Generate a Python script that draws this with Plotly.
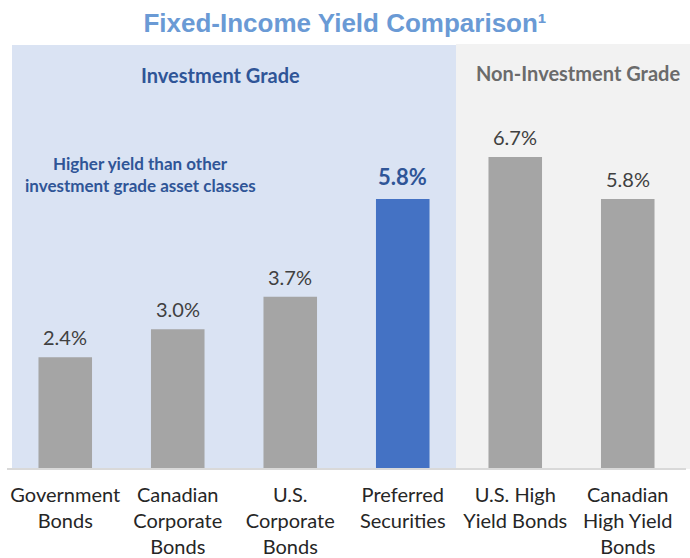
import plotly.graph_objects as go

categories = ["Government<br>Bonds", "Canadian<br>Corporate<br>Bonds", "U.S.<br>Corporate<br>Bonds",
              "Preferred<br>Securities", "U.S. High<br>Yield Bonds", "Canadian<br>High Yield<br>Bonds"]
yields = [2.4, 3.0, 3.7, 5.8, 6.7, 5.8]
value_labels = ["2.4%", "3.0%", "3.7%", "5.8%", "6.7%", "5.8%"]
highlight = [False, False, False, True, False, False]

FONT = "Lato"
bar_colors = ["#4472c4" if h else "#a5a5a5" for h in highlight]

fig = go.Figure()
fig.add_trace(go.Bar(x=categories, y=yields, marker=dict(color=bar_colors, line=dict(width=0)),
                     hoverinfo="skip"))

annotations = []
for c, v, lab, h in zip(categories, yields, value_labels, highlight):
    if h:
        annotations.append(dict(x=c, y=v, text="<b>" + lab + "</b>", showarrow=False, yanchor="bottom",
                                yshift=7, font=dict(family=FONT, size=22, color="#2f5597")))
    else:
        annotations.append(dict(x=c, y=v, text=lab, showarrow=False, yanchor="bottom",
                                yshift=6, font=dict(family=FONT, size=20, color="#404040")))

# Section headers and note
annotations += [
    dict(xref="paper", yref="paper", x=(220 - 9) / 675, y=(558 - 89 - 75) / 424, text="<b>Investment Grade</b>",
         showarrow=False, xanchor="center", yanchor="middle",
         font=dict(family=FONT, size=20, color="#2f5597")),
    dict(xref="paper", yref="paper", x=(578 - 9) / 675, y=(558 - 89 - 73) / 424, text="<b>Non-Investment Grade</b>",
         showarrow=False, xanchor="center", yanchor="middle",
         font=dict(family=FONT, size=20, color="#6b6b6b")),
    dict(xref="paper", yref="paper", x=(140 - 9) / 675, y=(558 - 89 - 163) / 424, text="<b>Higher yield than other</b>",
         showarrow=False, xanchor="center", yanchor="middle",
         font=dict(family=FONT, size=17, color="#2f5597")),
    dict(xref="paper", yref="paper", x=(140 - 9) / 675, y=(558 - 89 - 185) / 424,
         text="<b>investment grade asset classes</b>",
         showarrow=False, xanchor="center", yanchor="middle",
         font=dict(family=FONT, size=17, color="#2f5597")),
]

shapes = [
    dict(type="rect", xref="paper", yref="paper", x0=(12 - 9) / 675, x1=(456 - 9) / 675, y0=0, y1=1,
         fillcolor="#dae3f3", line=dict(width=0), layer="below"),
    dict(type="rect", xref="paper", yref="paper", x0=(456 - 9) / 675, x1=(690 - 9) / 675, y0=0, y1=1.0025,
         fillcolor="#f2f2f2", line=dict(width=0), layer="below"),
    dict(type="line", xref="paper", yref="paper", x0=(7 - 9) / 675, x1=(686 - 9) / 675, y0=0, y1=0,
         line=dict(color="#d9d9d9", width=2), layer="above"),
]

fig.update_layout(
    width=690, height=558,
    margin=dict(l=9, r=6, t=45, b=89, autoexpand=False),
    paper_bgcolor="white", plot_bgcolor="rgba(0,0,0,0)",
    bargap=0.524,
    showlegend=False,
    title=dict(text="<b>Fixed-Income Yield Comparison¹</b>", x=0.5, xanchor="center",
               y=1 - 23 / 558, yanchor="middle",
               font=dict(family="Liberation Sans", size=26, color="#6a9ad5")),
    xaxis=dict(showgrid=False, zeroline=False, showline=False, ticks="", automargin=False,
               ticklabelstandoff=12,
               tickfont=dict(family=FONT, size=20, color="#262626"), fixedrange=True),
    yaxis=dict(range=[0, 9.105], visible=False, fixedrange=True, automargin=False),
    annotations=annotations,
    shapes=shapes,
)

fig.write_html("out.html", config={"displayModeBar": False},
               post_script="document.body.style.margin='0';document.body.style.overflow='hidden';")
